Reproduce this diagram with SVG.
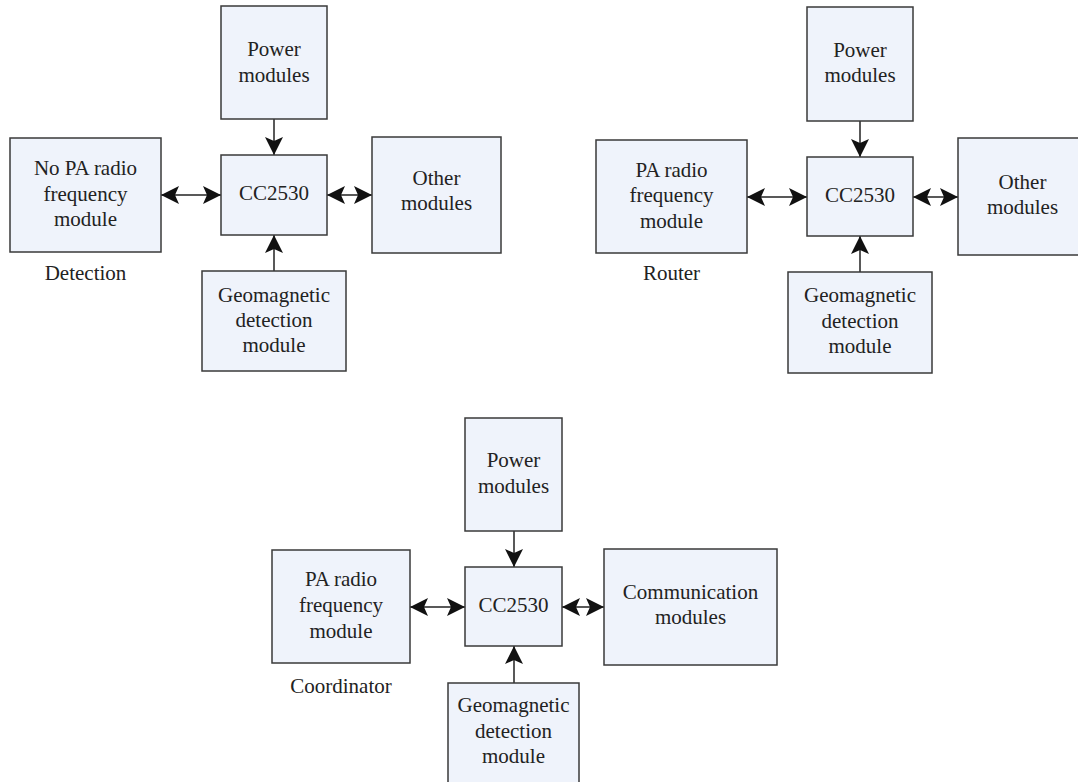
<svg xmlns="http://www.w3.org/2000/svg" width="1078" height="782" viewBox="0 0 1078 782">
<style>
.box{fill:#eff3fb;stroke:#3a3a3a;stroke-width:1.5}
text{font-family:'Liberation Serif','DejaVu Serif',serif;font-size:21px;fill:#222;text-anchor:middle}
.c{stroke:#222;stroke-width:1.5;fill:none}
.s{marker-end:url(#ah)}
.d{marker-start:url(#ah);marker-end:url(#ah)}
</style>
<defs>
<marker id="ah" viewBox="0 -10 18 20" markerWidth="18" markerHeight="20" refX="18" refY="0" orient="auto-start-reverse" markerUnits="userSpaceOnUse">
<path d="M18,0 L0,-9 L4,0 L0,9 Z" fill="#111"/>
</marker>
</defs>
<rect width="1078" height="782" fill="#fff"/>

<g id="connectors">
<path class="c d" d="M161,195 H221"/>
<path class="c d" d="M327,195 H372"/>
<path class="c s" d="M274,119 V155"/>
<path class="c s" d="M274,271 V235"/>
<path class="c d" d="M747,197 H807"/>
<path class="c d" d="M913,197 H958"/>
<path class="c s" d="M860,121 V157"/>
<path class="c s" d="M860,272 V236"/>
<path class="c d" d="M410,607 H465"/>
<path class="c d" d="M562,607 H604"/>
<path class="c s" d="M514,531 V567"/>
<path class="c s" d="M514,683 V646"/>
</g>

<g id="tl-power"><rect class="box" x="221" y="6" width="106" height="113"/><text x="274" y="56">Power</text><text x="274" y="81.5">modules</text></g>
<g id="tl-rf"><rect class="box" x="10" y="138" width="151" height="114"/><text x="85.5" y="175">No PA radio</text><text x="85.5" y="200.5">frequency</text><text x="85.5" y="226">module</text></g>
<g id="tl-cc"><rect class="box" x="221" y="155" width="106" height="80"/><text x="274" y="200">CC2530</text></g>
<g id="tl-other"><rect class="box" x="372" y="137" width="129" height="116"/><text x="436.5" y="185">Other</text><text x="436.5" y="210">modules</text></g>
<g id="tl-geo"><rect class="box" x="202" y="271" width="144" height="100"/><text x="274" y="302">Geomagnetic</text><text x="274" y="327">detection</text><text x="274" y="352">module</text></g>
<g id="tl-label"><text x="85.5" y="280">Detection</text></g>

<g id="tr-power"><rect class="box" x="807" y="7" width="106" height="114"/><text x="860" y="57">Power</text><text x="860" y="82">modules</text></g>
<g id="tr-rf"><rect class="box" x="596" y="140" width="151" height="113"/><text x="671.5" y="176.5">PA radio</text><text x="671.5" y="202">frequency</text><text x="671.5" y="227.5">module</text></g>
<g id="tr-cc"><rect class="box" x="807" y="157" width="106" height="79"/><text x="860" y="202">CC2530</text></g>
<g id="tr-other"><rect class="box" x="958" y="138" width="129" height="117"/><text x="1022.5" y="189">Other</text><text x="1022.5" y="213.5">modules</text></g>
<g id="tr-geo"><rect class="box" x="788" y="272" width="144" height="101"/><text x="860" y="302">Geomagnetic</text><text x="860" y="328">detection</text><text x="860" y="353">module</text></g>
<g id="tr-label"><text x="671.5" y="280">Router</text></g>

<g id="b-power"><rect class="box" x="465" y="418" width="97" height="113"/><text x="513.5" y="467">Power</text><text x="513.5" y="493">modules</text></g>
<g id="b-rf"><rect class="box" x="272" y="550" width="138" height="113"/><text x="341" y="586">PA radio</text><text x="341" y="612">frequency</text><text x="341" y="638">module</text></g>
<g id="b-cc"><rect class="box" x="465" y="567" width="97" height="79"/><text x="513.5" y="612">CC2530</text></g>
<g id="b-comm"><rect class="box" x="604" y="549" width="173" height="116"/><text x="690.5" y="599">Communication</text><text x="690.5" y="624">modules</text></g>
<g id="b-geo"><rect class="box" x="448" y="683" width="131" height="110"/><text x="513.5" y="712">Geomagnetic</text><text x="513.5" y="738">detection</text><text x="513.5" y="763">module</text></g>
<g id="b-label"><text x="341" y="693">Coordinator</text></g>
</svg>
